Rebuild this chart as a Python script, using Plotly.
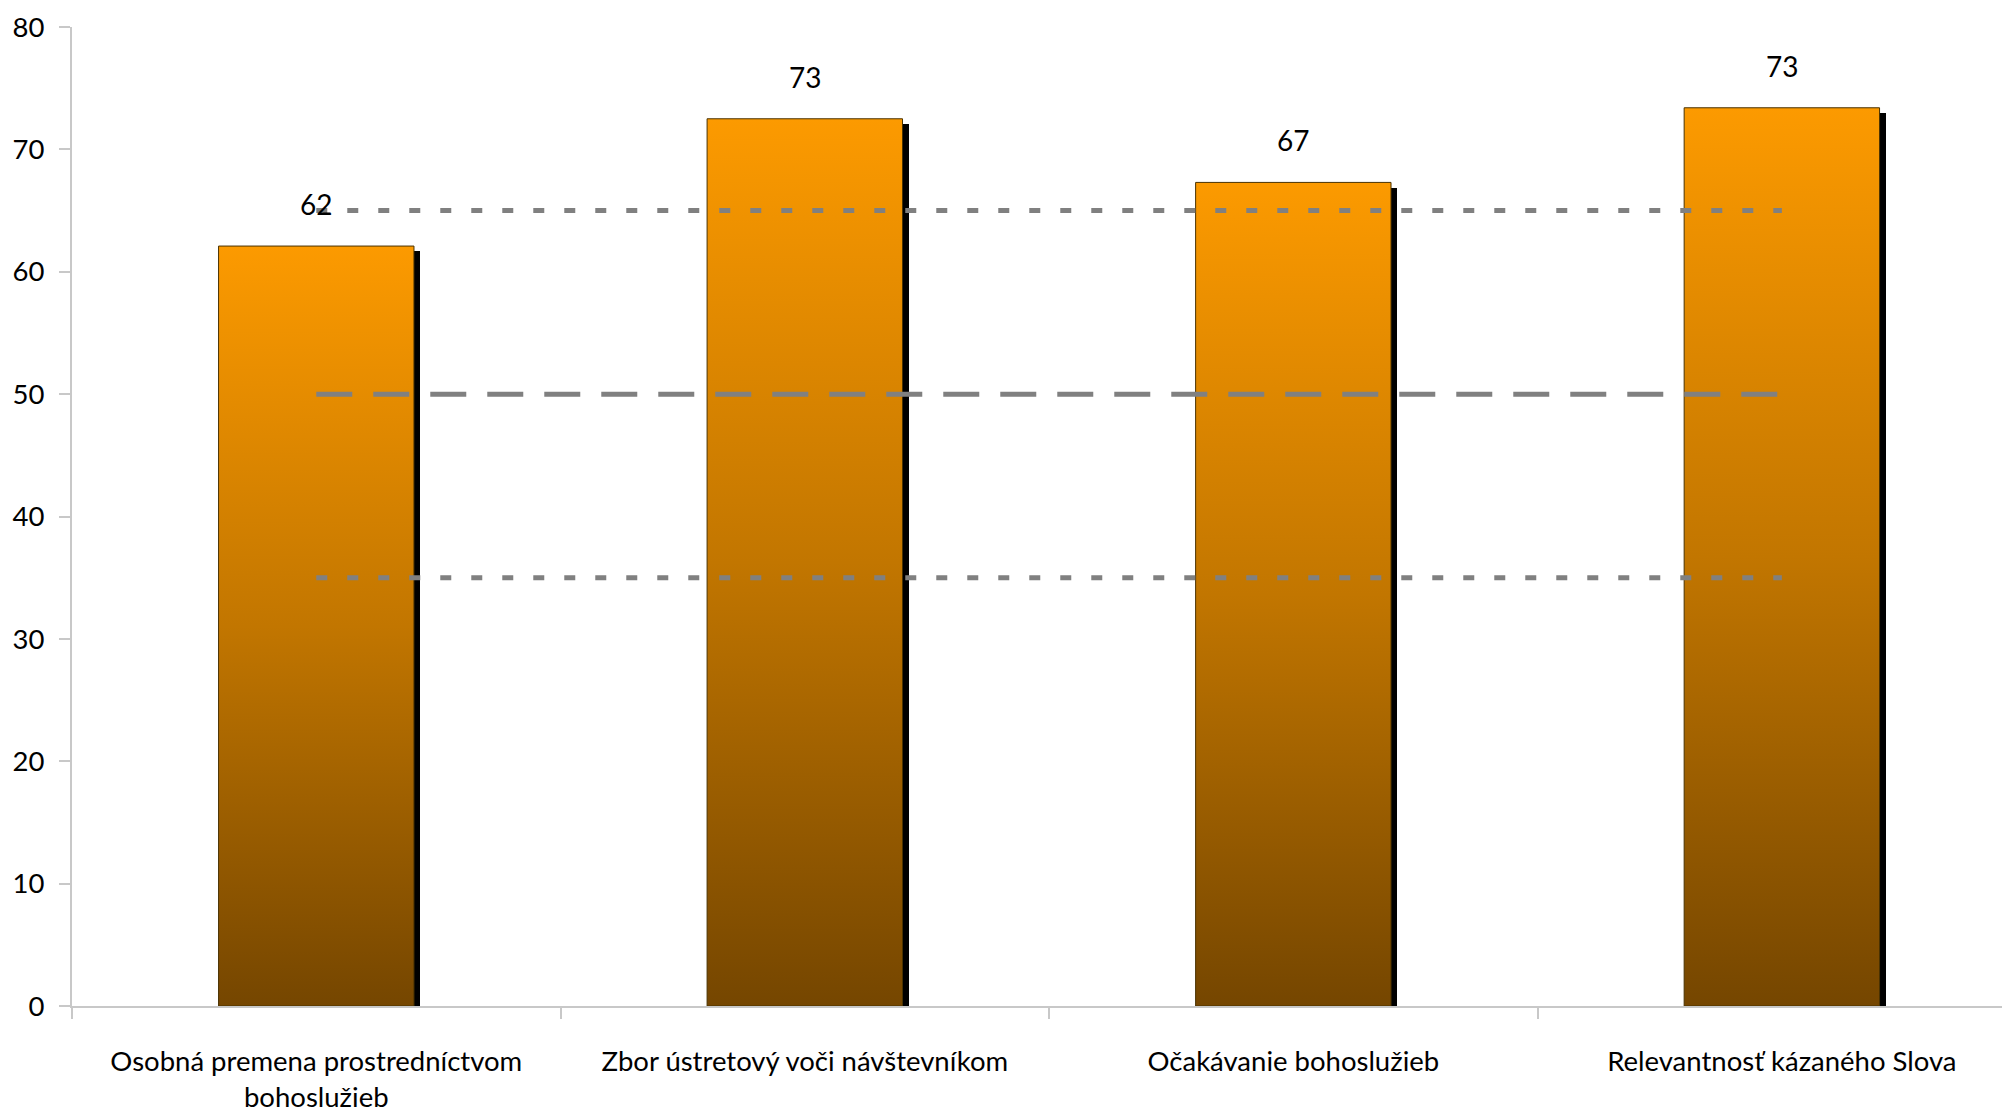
import plotly.graph_objects as go

categories = [
    "Osobná premena prostredníctvom<br>bohoslužieb",
    "Zbor ústretový voči návštevníkom",
    "Očakávanie bohoslužieb",
    "Relevantnosť kázaného Slova",
]
values = [62.1, 72.5, 67.3, 73.4]
value_labels = ["62", "73", "67", "73"]
ref_levels = [65, 50, 35]
ref_dashes = ["11px,20px", "36px,21px", "11px,20px"]
y_ticks = [0, 10, 20, 30, 40, 50, 60, 70, 80]

FONT = "Lato, 'Open Sans', sans-serif"
BAR_W = 0.40
SHADOW_DX = 0.013     # ~6 px
SHADOW_DY = 0.42      # ~5 px
AXIS_COLOR = "#c8c8c8"

idx = list(range(len(categories)))
fig = go.Figure()

# shadows
fig.add_trace(go.Bar(
    x=idx, y=[v - SHADOW_DY for v in values], width=BAR_W,
    offset=-BAR_W / 2 + SHADOW_DX,
    marker=dict(color="black", line=dict(width=0)),
    hoverinfo="skip", showlegend=False,
))

# gradient bars
for i, v in zip(idx, values):
    x0, x1 = i - BAR_W / 2, i + BAR_W / 2
    fig.add_trace(go.Scatter(
        x=[x0, x1, x1, x0, x0], y=[0, 0, v, v, 0],
        mode="lines", fill="toself",
        line=dict(color="#4a3200", width=1),
        fillgradient=dict(type="vertical", start=0, stop=v,
                          colorscale=[[0, "#754600"], [0.5, "#C27600"], [1, "#FC9A00"]]),
        hoverinfo="skip", showlegend=False,
    ))

# reference lines
for lvl, dash in zip(ref_levels, ref_dashes):
    fig.add_trace(go.Scatter(
        x=[idx[0], idx[-1]], y=[lvl, lvl], mode="lines",
        line=dict(color="#808080", width=5, dash=dash),
        hoverinfo="skip", showlegend=False,
    ))

for i, v, t in zip(idx, values, value_labels):
    fig.add_annotation(x=i, y=v, text=t, showarrow=False, yanchor="bottom",
                       yshift=23, font=dict(family=FONT, size=28, color="black"))

# page body has an 8px margin, so the figure is 8px smaller than the window
fig.update_layout(
    width=2002, height=1110,
    margin=dict(l=64, r=0, t=19, b=112),
    plot_bgcolor="white", paper_bgcolor="white",
    showlegend=False,
    bargap=0,
    xaxis=dict(
        range=[-0.5, 3.467],
        tickmode="array", tickvals=idx, ticktext=categories,
        ticks="", showgrid=False, zeroline=False,
        showline=True, linecolor=AXIS_COLOR, linewidth=2,
        tickfont=dict(family=FONT, size=27.5, color="black"),
        ticklabelstandoff=30,
        minor=dict(tickmode="array", tickvals=[-0.5, 0.5, 1.5, 2.5, 3.5],
                   ticks="outside", ticklen=11, tickwidth=2, tickcolor=AXIS_COLOR,
                   showgrid=False),
    ),
    yaxis=dict(
        range=[0, 80], tickmode="array", tickvals=y_ticks,
        ticks="outside", ticklen=11, tickwidth=2, tickcolor=AXIS_COLOR,
        showgrid=False, zeroline=False,
        showline=True, linecolor=AXIS_COLOR, linewidth=2,
        tickfont=dict(family=FONT, size=27.5, color="black"),
        ticklabelstandoff=9,
    ),
)

fig.write_html("out.html")
